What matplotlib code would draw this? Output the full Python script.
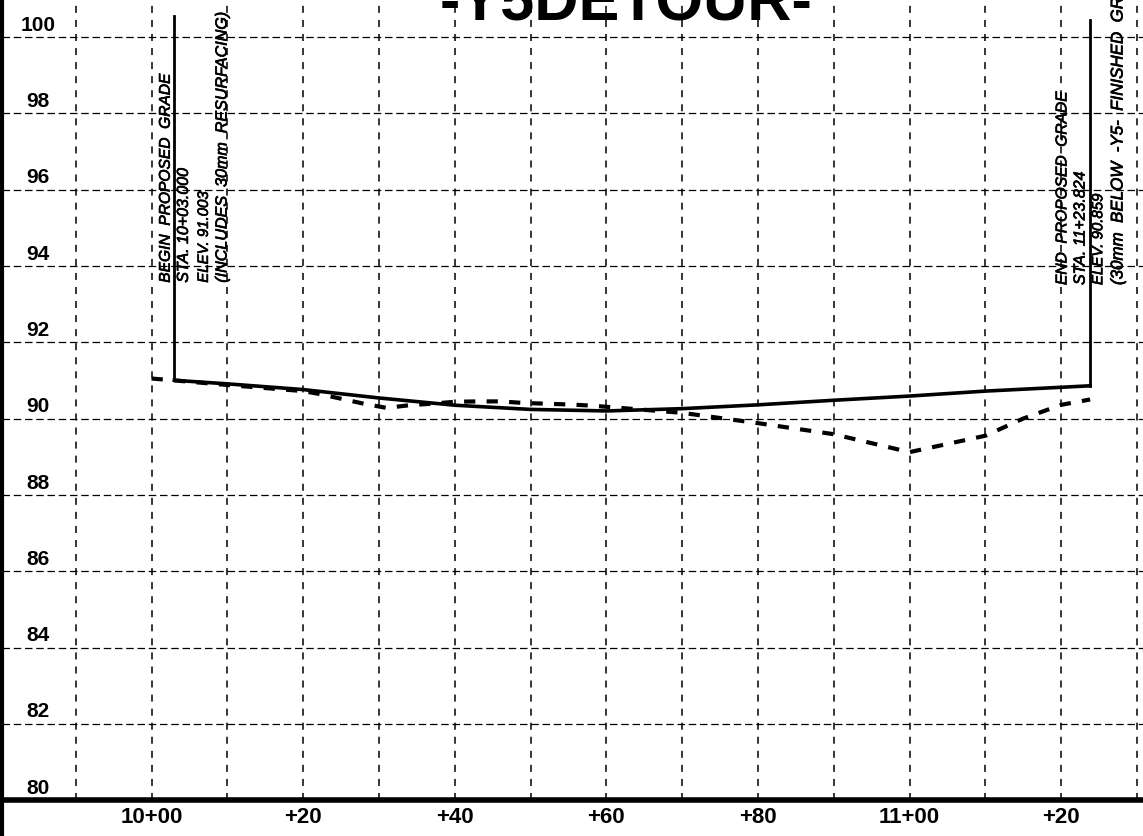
import matplotlib
matplotlib.use("Agg")
import matplotlib.pyplot as plt
import matplotlib.patheffects as pe
import numpy as np

#estaciones en metros, 1000 = 10+00
prop_sta = [1003, 1010, 1020, 1030, 1040, 1050, 1060, 1070, 1080, 1090, 1100, 1110, 1120, 1123.824]
prop_elev = [91.003, 90.91, 90.76, 90.54, 90.35, 90.24, 90.20, 90.26, 90.36, 90.48, 90.59, 90.72, 90.82, 90.859]

exist_sta = [1000, 1003, 1010, 1020, 1022, 1025, 1028, 1031, 1034, 1037, 1040, 1043, 1046, 1049, 1052, 1055, 1058, 1070, 1080, 1090, 1100, 1110, 1115, 1120, 1123.824]
exist_elev = [91.05, 91.0, 90.88, 90.72, 90.65, 90.52, 90.39, 90.28, 90.35, 90.39, 90.44, 90.45, 90.45, 90.41, 90.39, 90.37, 90.34, 90.15, 89.88, 89.59, 89.12, 89.55, 90.0, 90.36, 90.5]

grid_sta = np.arange(990, 1131, 10)
grid_elev = np.arange(82, 101, 2)
elev_ticks = [80, 82, 84, 86, 88, 90, 92, 94, 96, 98, 100]
sta_ticks = [1000, 1020, 1040, 1060, 1080, 1100, 1120]
sta_labels = ["10+00", "+20", "+40", "+60", "+80", "11+00", "+20"]

begin_notes = ["BEGIN  PROPOSED  GRADE", "STA. 10+03.000", "ELEV. 91.003", "(INCLUDES  30mm  RESURFACING)"]
begin_x = [1001.8, 1004.2, 1006.9, 1009.3]
begin_sizes = [11.2, 11.5, 10.8, 11.6]
end_notes = ["END  PROPOSED  GRADE", "STA. 11+23.824", "ELEV. 90.859", "(30mm  BELOW  -Y5-  FINISHED  GRADE)"]
end_x = [1120.1, 1122.5, 1124.9, 1127.5]
end_sizes = [11.2, 11.5, 10.8, 12.2]

narrow = ["Liberation Sans Narrow", "Liberation Sans", "DejaVu Sans"]
plt.rcParams["font.family"] = ["Liberation Sans", "DejaVu Sans"]

fig = plt.figure(figsize=(11.43, 8.36), dpi=100)
ax = fig.add_axes([0, 0, 1, 1])
ax.set_xlim(980, 1130.8)
ax.set_ylim(79.06, 100.97)
ax.axis("off")

#reticula
for s in grid_sta:
    ax.plot([s, s], [80, 100.97], color="black", lw=1.1, dashes=(4.6, 4.6))
for e in grid_elev:
    ax.plot([980.3, 1130.8], [e, e], color="black", lw=0.9, dashes=(6, 3))

#marco
ax.plot([980.2, 980.2], [79.06, 100.97], color="black", lw=3)
ax.plot([980.2, 1130.8], [80, 80], color="black", lw=4)

#rasante existente y propuesta
ax.plot(exist_sta, exist_elev, color="black", lw=3, dashes=(2.7, 2.7))
ax.plot(prop_sta, prop_elev, color="black", lw=2.6)
ax.plot([prop_sta[0], prop_sta[0]], [prop_elev[0], 100.55], color="black", lw=2.0)
ax.plot([prop_sta[-1], prop_sta[-1]], [prop_elev[-1], 100.45], color="black", lw=2.0)

for e in elev_ticks:
    ax.text(985, e + 0.31, str(e), ha="center", va="center", fontsize=15, fontweight="bold")
for s, lab in zip(sta_ticks, sta_labels):
    ax.text(s, 79.55, lab, ha="center", va="center", fontsize=16, fontweight="bold")

#engrosar un poco las notas
grueso = [pe.withStroke(linewidth=0.5, foreground="black")]
for note, x, size in zip(begin_notes, begin_x, begin_sizes):
    ax.text(x, 93.56, note, rotation=90, ha="center", va="bottom", fontsize=size,
            style="italic", family=narrow, path_effects=grueso)
for note, x, size in zip(end_notes, end_x, end_sizes):
    ax.text(x, 93.5, note, rotation=90, ha="center", va="bottom", fontsize=size,
            style="italic", family=narrow, path_effects=grueso)

ax.text(1062.6, 100.42, "-Y5DETOUR-", ha="center", va="baseline", fontsize=44, fontweight="bold",
        family=narrow)

fig.savefig("out.png", dpi=100)
